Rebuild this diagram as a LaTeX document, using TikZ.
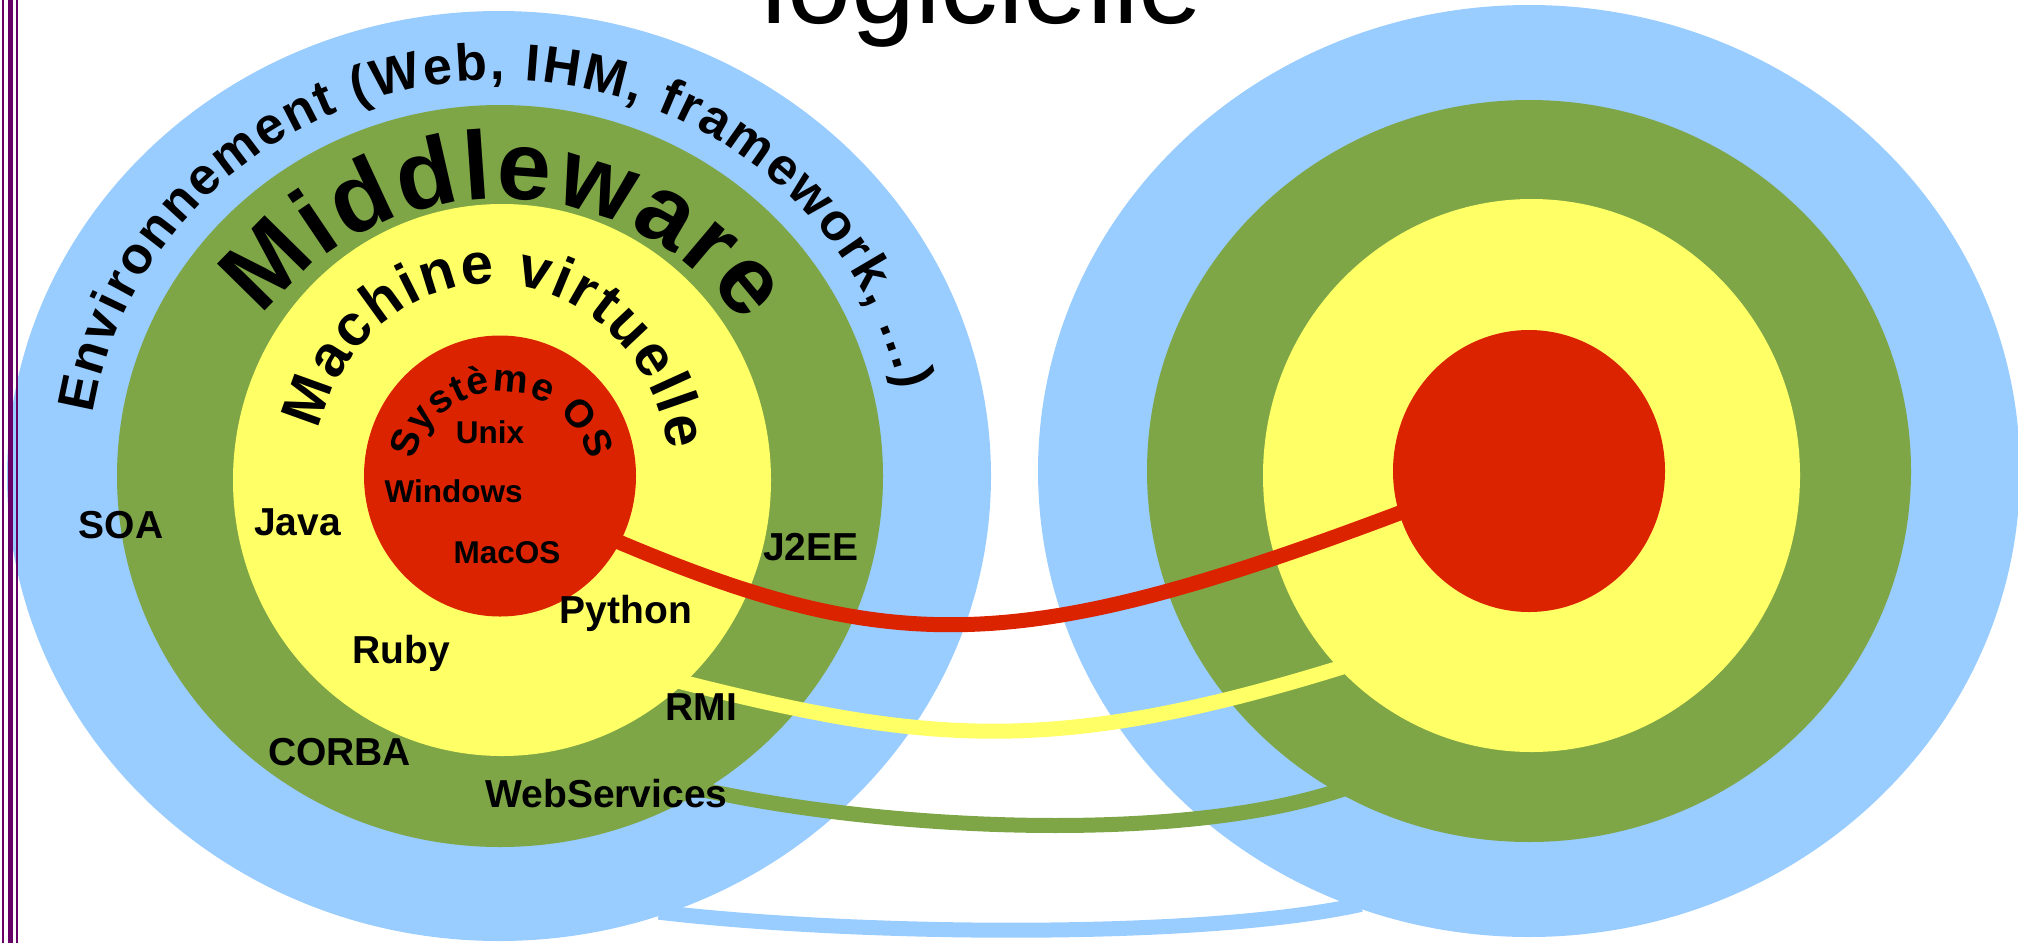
\documentclass[tikz,border=0pt]{standalone}
\usepackage{fontspec}
\setmainfont{Liberation Sans}
\usetikzlibrary{shapes.geometric,decorations.text}
\newcommand\fsz[1]{\fontsize{#1}{#1}\selectfont}
\definecolor{ringblue}{RGB}{153,204,255}
\definecolor{ringgreen}{RGB}{126,166,71}
\definecolor{ringyellow}{RGB}{255,255,102}
\definecolor{ringred}{RGB}{220,35,0}
\definecolor{edgepurple}{RGB}{102,0,102}
\tikzset{
  ring/.style={ellipse, inner sep=0pt, outer sep=0pt, draw=none},
  tagbig/.style={font=\bfseries\fsz{39}, inner sep=0pt, anchor=base},
  tagsmall/.style={font=\bfseries\fsz{31.5}, inner sep=0pt, anchor=base},
  connector/.style={line width=15pt, shorten <=-8pt, shorten >=-8pt},
  purplerule/.style={draw=edgepurple},
}
\begin{document}
\begin{tikzpicture}[x=1pt,y=1pt]
\useasboundingbox (0,0) rectangle (2018,-943);
\clip (0,0) rectangle (2018,-943);
% left rings
\node[ring, fill=ringblue,   minimum width=984pt, minimum height=930pt] (lblue)   at (499,-476) {};
\node[ring, fill=ringgreen,  minimum width=766pt, minimum height=742pt] (lgreen)  at (500,-476) {};
\node[ring, fill=ringyellow, minimum width=538pt, minimum height=552pt] (lyellow) at (502,-480) {};
\node[ring, fill=ringred,    minimum width=272pt, minimum height=281pt] (lred)    at (500,-476) {};
% right rings
\node[ring, fill=ringblue,   minimum width=982pt, minimum height=932pt] (rblue)   at (1529,-471) {};
\node[ring, fill=ringgreen,  minimum width=764pt, minimum height=742pt] (rgreen)  at (1529,-471) {};
\node[ring, fill=ringyellow, minimum width=537pt, minimum height=553pt] (ryellow) at (1531.5,-475.5) {};
\node[ring, fill=ringred,    minimum width=272pt, minimum height=282pt] (rred)    at (1529,-471) {};
% connectors
\draw[connector, ringblue]   (lblue.-69.7)   .. controls (850,-935) and (1200,-940) .. (rblue.248);
\draw[connector, ringgreen]  (lgreen.-57.9)  .. controls (880,-830) and (1180,-845) .. (rgreen.239.5);
\draw[connector, ringyellow] (lyellow.-48.3) .. controls (926,-744) and (1054,-757) .. (ryellow.225.9);
\draw[connector, ringred]    (lred.-29.2)    .. controls (896,-660) and (1024,-655) .. (rred.198.8);
% curved titles
\path[decorate, decoration={text along path, text align={fit to path},
  text={|\bfseries\fsz{52}|Environnement (Web, IHM, framework, ...)}}]
  (499,-476) ++(171:411 and 396) arc[start angle=171, end angle=12.5, x radius=411, y radius=396];
\path[decorate, decoration={text along path, text align={fit to path},
  text={|\bfseries\fsz{97}|Middleware}}]
  (500,-476) ++(145:290 and 277) arc[start angle=145, end angle=33, x radius=290, y radius=277];
\path[decorate, decoration={text along path, text align={fit to path},
  text={|\bfseries\fsz{58}|Machine virtuelle}}]
  (492,-476) ++(166:178 and 192) arc[start angle=166, end angle=7.8, x radius=178, y radius=192];
\path[decorate, decoration={text along path, text align={fit to path},
  text={|\bfseries\fsz{39}|Système OS}}]
  (501.5,-476) ++(169:88.6 and 84) arc[start angle=169, end angle=11, x radius=88.6, y radius=84];
% labels
\node[tagsmall] (unix)    at (490,-443)   {Unix};
\node[tagsmall] (windows) at (453.5,-502) {Windows};
\node[tagsmall] (macos)   at (507,-563)   {MacOS};
\node[tagbig] (soa)    at (121,-538)   {SOA};
\node[tagbig] (java)   at (297.5,-535) {Java};
\node[tagbig] (j2ee)   at (811,-560)   {J2EE};
\node[tagbig] (python) at (626,-623)   {Python};
\node[tagbig] (ruby)   at (401,-663)   {Ruby};
\node[tagbig] (rmi)    at (701.5,-720) {RMI};
\node[tagbig] (corba)  at (339.5,-765) {CORBA};
\node[tagbig] (websvc) at (606.5,-807) {WebServices};
% title fragment
\node[font=\fsz{115}, inner sep=0pt, anchor=base] (title) at (982.5,-23) {logicielle};
% purple rules at the left edge
\draw[purplerule, line width=1.7pt] (3.2,0) -- (3.2,-943);
\draw[purplerule, line width=5.3pt] (10.7,0) -- (10.7,-943);
\draw[purplerule, line width=2.3pt] (16.8,0) -- (16.8,-943);
\end{tikzpicture}
\end{document}
